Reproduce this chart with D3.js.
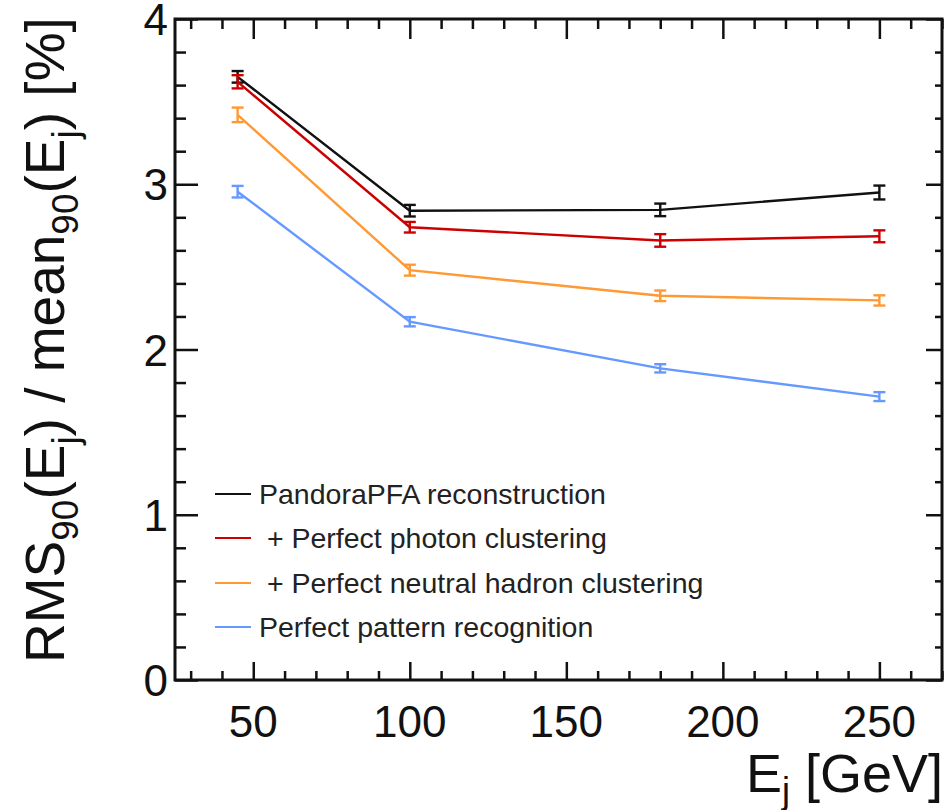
<!DOCTYPE html>
<html><head><meta charset="utf-8">
<script src="https://cdn.jsdelivr.net/npm/d3@7"></script>
<style>body{margin:0;background:#fff}svg{display:block}text{font-family:"Liberation Sans",Arial,Helvetica,sans-serif}</style>
</head><body>
<script>
const energies = [45, 100, 180, 250];
const seriesNames = ["PandoraPFA reconstruction", " + Perfect photon clustering", " + Perfect neutral hadron clustering", "Perfect pattern recognition"];
const seriesColors = ["#111111", "#cc0000", "#ff9933", "#6699ff"];
const pandora = [3.65, 2.84, 2.845, 2.95];
const pandoraErr = [0.035, 0.035, 0.038, 0.042];
const photon = [3.62, 2.74, 2.66, 2.685];
const photonErr = [0.04, 0.032, 0.038, 0.036];
const neutral = [3.42, 2.48, 2.325, 2.297];
const neutralErr = [0.044, 0.033, 0.032, 0.031];
const pattern = [2.955, 2.168, 1.886, 1.715];
const patternErr = [0.035, 0.028, 0.025, 0.027];
const xTicks = [50, 100, 150, 200, 250];
const yTicks = [0, 1, 2, 3, 4];

const W = 951, H = 810;
const L = 175, R = 942, T = 19, B = 680;
const svg = d3.select("body").append("svg").attr("width", W).attr("height", H);
const x = d3.scaleLinear().domain([25, 270]).range([L, R]);
const y = d3.scaleLinear().domain([0, 4]).range([B, T]);

const values = [pandora, photon, neutral, pattern];
const errs = [pandoraErr, photonErr, neutralErr, patternErr];

const xMinor = d3.range(30, 271, 10).filter(v => v % 50 !== 0);
const yMinor = d3.range(0, 4.001, 0.2).filter(v => Math.abs(v - Math.round(v)) > 1e-6);

function tickAxis(g, axis) { g.call(axis); g.select(".domain").remove(); g.selectAll("line").attr("stroke", "#111").attr("stroke-width", 2.5); g.selectAll("text").remove(); }

svg.append("g").attr("transform", `translate(0,${B})`).call(g => tickAxis(g, d3.axisBottom(x).tickValues(xTicks).tickSize(-18)));
svg.append("g").attr("transform", `translate(0,${B})`).call(g => tickAxis(g, d3.axisBottom(x).tickValues(xMinor).tickSize(-9)));
svg.append("g").attr("transform", `translate(0,${T})`).call(g => tickAxis(g, d3.axisTop(x).tickValues(xTicks).tickSize(-20)));
svg.append("g").attr("transform", `translate(0,${T})`).call(g => tickAxis(g, d3.axisTop(x).tickValues(xMinor).tickSize(-10)));
svg.append("g").attr("transform", `translate(${L},0)`).call(g => tickAxis(g, d3.axisLeft(y).tickValues(yTicks).tickSize(-23)));
svg.append("g").attr("transform", `translate(${L},0)`).call(g => tickAxis(g, d3.axisLeft(y).tickValues(yMinor).tickSize(-11)));
svg.append("g").attr("transform", `translate(${R},0)`).call(g => tickAxis(g, d3.axisRight(y).tickValues(yTicks).tickSize(-16)));
svg.append("g").attr("transform", `translate(${R},0)`).call(g => tickAxis(g, d3.axisRight(y).tickValues(yMinor).tickSize(-7)));

svg.append("rect").attr("x", L).attr("y", T).attr("width", R - L).attr("height", B - T)
  .attr("fill", "none").attr("stroke", "#111").attr("stroke-width", 3);

svg.append("g").selectAll("text").data(xTicks).join("text")
  .attr("x", d => x(d)).attr("y", 737).attr("text-anchor", "middle")
  .attr("font-size", 44).attr("fill", "#111").text(d => d);
svg.append("g").selectAll("text").data(yTicks).join("text")
  .attr("x", 168).attr("y", d => y(d) + 16).attr("text-anchor", "end")
  .attr("font-size", 44).attr("fill", "#111").text(d => d);

const xt = svg.append("text").attr("x", 943).attr("y", 792).attr("text-anchor", "end")
  .attr("font-size", 54).attr("fill", "#111");
xt.append("tspan").text("E");
xt.append("tspan").attr("font-size", 36).attr("dy", 11).text("j");
xt.append("tspan").attr("dy", -11).text(" [GeV]");

const yt = svg.append("text").attr("transform", "translate(64,663) rotate(-90)")
  .attr("font-size", 55).attr("fill", "#111");
yt.append("tspan").text("RMS");
yt.append("tspan").attr("font-size", 37).attr("dy", 14).text("90");
yt.append("tspan").attr("dy", -14).text("(E");
yt.append("tspan").attr("font-size", 37).attr("dy", 14).text("j");
yt.append("tspan").attr("dy", -14).text(") / mean");
yt.append("tspan").attr("font-size", 37).attr("dy", 14).text("90");
yt.append("tspan").attr("dy", -14).text("(E");
yt.append("tspan").attr("font-size", 37).attr("dy", 14).text("j");
yt.append("tspan").attr("dy", -14).text(") [%]");

const line = d3.line().x(d => x(d.e)).y(d => y(d.v));
values.forEach((vals, i) => {
  const pts = energies.map((e, k) => ({ e, v: vals[k], err: errs[i][k] }));
  const g = svg.append("g");
  g.append("path").datum(pts).attr("d", line).attr("fill", "none")
    .attr("stroke", seriesColors[i]).attr("stroke-width", 2.4);
  const eb = g.selectAll("g.eb").data(pts).join("g").attr("stroke", seriesColors[i]).attr("stroke-width", 2.4);
  eb.append("line").attr("x1", d => x(d.e)).attr("x2", d => x(d.e)).attr("y1", d => y(d.v - d.err)).attr("y2", d => y(d.v + d.err));
  eb.append("line").attr("x1", d => x(d.e) - 6).attr("x2", d => x(d.e) + 6).attr("y1", d => y(d.v - d.err)).attr("y2", d => y(d.v - d.err));
  eb.append("line").attr("x1", d => x(d.e) - 6).attr("x2", d => x(d.e) + 6).attr("y1", d => y(d.v + d.err)).attr("y2", d => y(d.v + d.err));
});

const legY = [494, 538, 583, 627];
const leg = svg.append("g");
seriesNames.forEach((name, i) => {
  leg.append("line").attr("x1", 215).attr("x2", 251).attr("y1", legY[i]).attr("y2", legY[i])
    .attr("stroke", seriesColors[i]).attr("stroke-width", 2);
  leg.append("text").attr("x", 259).attr("y", legY[i] + 10).attr("font-size", 28.5).attr("fill", "#222")
    .attr("xml:space", "preserve").style("white-space", "pre").text(name);
});
</script>
</body></html>
